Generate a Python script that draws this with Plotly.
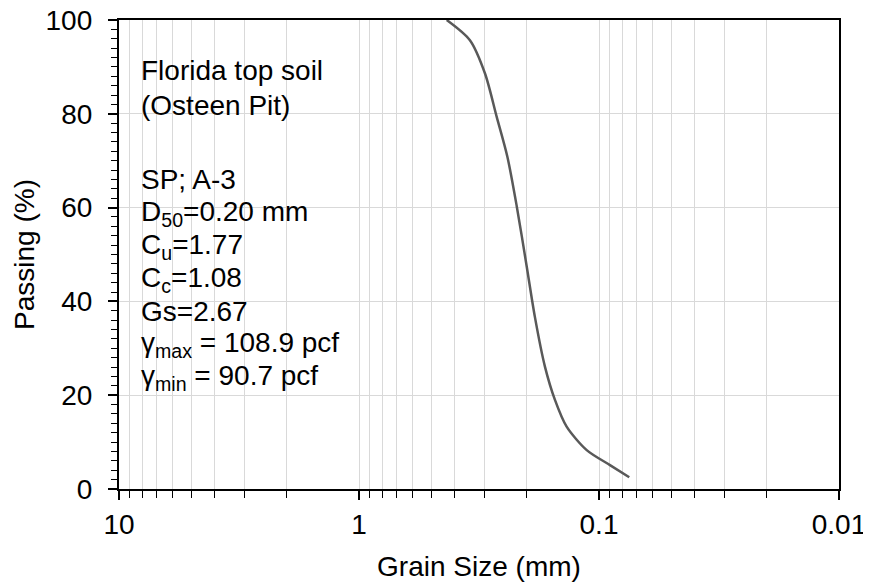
import plotly.graph_objects as go

grain_size_mm = [0.431, 0.345, 0.2985, 0.267, 0.241, 0.220, 0.200, 0.185, 0.168, 0.1526, 0.1364, 0.1125, 0.090, 0.0748]
passing_pct = [100.0, 95.7, 88.6, 79.4, 70.9, 60.2, 47.4, 36.7, 26.1, 19.0, 13.3, 8.3, 5.1, 2.5]

x_major_ticks = [10, 1, 0.1, 0.01]
x_major_labels = ["10", "1", "0.1", "0.01"]
x_minor_ticks = [m * 10.0 ** e for e in (-2, -1, 0) for m in range(2, 10)]

info_lines = [
    "Florida top soil",
    "(Osteen Pit)",
    "SP; A-3",
    "D<sub>50</sub>=0.20 mm",
    "C<sub>u</sub>=1.77",
    "C<sub>c</sub>=1.08",
    "Gs=2.67",
    "γ<sub>max</sub> = 108.9 pcf",
    "γ<sub>min</sub> = 90.7 pcf",
]
info_y_px = [71, 106, 179, 213, 246, 279, 312, 344, 377]

FONT = "Liberation Sans, Arial, sans-serif"
FS = 28

# the page body has an 8px default margin, so the figure is drawn 8px right/down;
# shift the margins to land the plot area where the reference has it
OFF = 8
W, H = 871, 586
top, bottom, left, right = 20, 489, 119, 839

fig = go.Figure()
fig.add_trace(go.Scatter(
    x=grain_size_mm, y=passing_pct, mode="lines",
    line=dict(color="#595959", width=2.5, shape="spline", smoothing=0.8),
    showlegend=False, hoverinfo="x+y",
))

for txt, ypx in zip(info_lines, info_y_px):
    fig.add_annotation(
        text=txt, xref="paper", yref="paper", x=(139 - left) / (right - left),
        y=(bottom - ypx) / (bottom - top), xanchor="left", yanchor="middle",
        showarrow=False, font=dict(family=FONT, size=FS, color="#000000"),
    )

fig.update_layout(
    width=W, height=H,
    margin=dict(l=left - OFF, r=W - (right - OFF), t=top - OFF, b=H - (bottom - OFF),
                autoexpand=False),
    paper_bgcolor="white", plot_bgcolor="white",
    font=dict(family=FONT, size=FS, color="#000000"),
    xaxis=dict(
        type="log", range=[1, -2], automargin=False, ticklabeloverflow="allow",
        tickmode="array", tickvals=x_major_ticks, ticktext=x_major_labels,
        showgrid=True, gridcolor="#d9d9d9", gridwidth=1,
        ticks="outside", ticklen=9, tickwidth=1.5, tickcolor="#000000",
        showline=True, linecolor="#000000", linewidth=2, mirror=True,
        minor=dict(tickmode="array", tickvals=x_minor_ticks, ticks="outside", ticklen=7,
                   tickwidth=1.2, tickcolor="#000000", showgrid=True,
                   gridcolor="#d9d9d9", gridwidth=1),
        title=dict(text="Grain Size (mm)", font=dict(size=FS), standoff=18),
        tickfont=dict(size=FS), zeroline=False,
    ),
    yaxis=dict(
        range=[0, 100], tickmode="linear", dtick=20, tick0=0, automargin=False,
        ticklabeloverflow="allow", ticksuffix="\u00a0\u200a",
        showgrid=True, gridcolor="#d9d9d9", gridwidth=1,
        ticks="outside", ticklen=9, tickwidth=1.5, tickcolor="#000000",
        showline=True, linecolor="#000000", linewidth=2, mirror=True,
        minor=dict(dtick=2, ticks="outside", ticklen=6, tickwidth=1.2,
                   tickcolor="#000000", showgrid=False),
        title=dict(text="Passing (%)", font=dict(size=FS), standoff=3),
        tickfont=dict(size=FS), zeroline=False,
    ),
)

fig.write_html("out.html")
